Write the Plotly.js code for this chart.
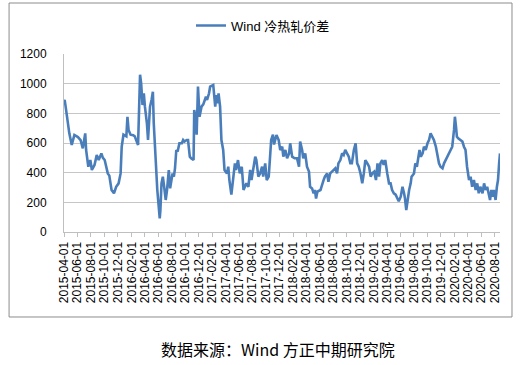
<!DOCTYPE html>
<html>
<head>
<meta charset="utf-8">
<script src="https://cdn.plot.ly/plotly-3.0.1.min.js"></script>
<style>
html,body{margin:0;padding:0;background:#fff;}
#chart{width:526px;height:365px;}
</style>
</head>
<body>
<div id="chart"></div>
<script>
const seriesName = "Wind 冷热轧价差";
const sourceText = "数据来源：Wind 方正中期研究院";

const dates = [
"2015-04-01","2015-04-04","2015-04-07","2015-04-15","2015-04-25","2015-05-06","2015-05-18","2015-06-03","2015-06-15","2015-06-25",
"2015-07-06","2015-07-10","2015-07-20","2015-07-29","2015-08-05","2015-08-17","2015-08-27","2015-09-05","2015-09-17","2015-09-24",
"2015-10-02","2015-10-16","2015-10-23","2015-11-02","2015-11-13","2015-11-23","2015-12-04","2015-12-13","2015-12-18","2015-12-26",
"2016-01-08","2016-01-13","2016-01-18","2016-01-27","2016-02-02","2016-02-08","2016-02-15","2016-03-01","2016-03-10","2016-03-15",
"2016-03-21","2016-03-27","2016-04-01","2016-04-10","2016-04-15","2016-04-24","2016-05-01","2016-05-07","2016-05-11","2016-05-16",
"2016-05-21","2016-05-27","2016-06-07","2016-06-10","2016-06-15","2016-06-21","2016-06-27","2016-07-04","2016-07-10","2016-07-18",
"2016-07-24","2016-08-04","2016-08-10","2016-08-15","2016-08-21","2016-08-27","2016-09-04","2016-09-15","2016-09-21","2016-09-27",
"2016-10-07","2016-10-13","2016-10-21","2016-10-27","2016-11-07","2016-11-10","2016-11-15","2016-11-21","2016-11-27","2016-12-04",
"2016-12-13","2016-12-21","2017-01-02","2017-01-07","2017-01-16","2017-01-21","2017-02-04","2017-02-13","2017-02-18","2017-02-24",
"2017-02-28","2017-03-07","2017-03-13","2017-03-21","2017-03-27","2017-04-07","2017-04-13","2017-04-18","2017-04-27","2017-05-07",
"2017-05-13","2017-05-18","2017-05-27","2017-06-04","2017-06-13","2017-06-21","2017-06-27","2017-07-04","2017-07-13","2017-07-21",
"2017-07-27","2017-08-04","2017-08-13","2017-08-18","2017-08-27","2017-09-04","2017-09-13","2017-09-18","2017-09-27","2017-10-04",
"2017-10-13","2017-10-18","2017-10-24","2017-11-01","2017-11-06","2017-11-17","2017-11-27","2017-12-04","2017-12-13","2017-12-18",
"2017-12-27","2018-01-04","2018-01-13","2018-01-18","2018-01-27","2018-02-07","2018-02-18","2018-02-27","2018-03-04","2018-03-13",
"2018-03-18","2018-03-27","2018-04-04","2018-04-13","2018-04-18","2018-04-27","2018-05-04","2018-05-10","2018-05-15","2018-05-21",
"2018-06-04","2018-06-18","2018-06-24","2018-07-04","2018-07-10","2018-07-18","2018-08-04","2018-08-10","2018-08-18","2018-08-24",
"2018-09-02","2018-09-10","2018-09-17","2018-09-24","2018-10-02","2018-10-10","2018-10-17","2018-10-24","2018-11-02","2018-11-10",
"2018-11-17","2018-11-24","2018-12-02","2018-12-10","2018-12-17","2018-12-24","2019-01-02","2019-01-10","2019-01-17","2019-01-24",
"2019-02-02","2019-02-10","2019-02-17","2019-02-24","2019-03-02","2019-03-10","2019-03-17","2019-03-24","2019-04-02","2019-04-10",
"2019-04-17","2019-04-24","2019-05-02","2019-05-10","2019-05-17","2019-05-24","2019-06-02","2019-06-10","2019-06-17","2019-06-21",
"2019-06-27","2019-07-04","2019-07-10","2019-07-17","2019-07-21","2019-08-01","2019-08-07","2019-08-14","2019-08-21","2019-08-26",
"2019-09-01","2019-09-09","2019-09-15","2019-09-23","2019-10-01","2019-10-08","2019-10-15","2019-10-22","2019-10-30","2019-11-08",
"2019-11-15","2019-11-22","2019-11-29","2019-12-08","2019-12-15","2019-12-22","2019-12-29","2020-01-07","2020-01-14","2020-01-21",
"2020-01-29","2020-02-02","2020-02-07","2020-02-11","2020-02-17","2020-02-28","2020-03-07","2020-03-14","2020-03-21","2020-03-28",
"2020-04-06","2020-04-13","2020-04-20","2020-04-28","2020-05-06","2020-05-13","2020-05-20","2020-05-27","2020-06-06","2020-06-13",
"2020-06-20","2020-06-27","2020-07-05","2020-07-10","2020-07-16","2020-07-21","2020-07-27","2020-08-04","2020-08-10","2020-08-15",
"2020-08-20","2020-08-24"
];

const spread = [
880,890,860,777,665,587,654,640,620,564,
665,553,440,485,418,452,519,485,530,500,
485,395,380,283,261,305,328,395,575,656,
645,777,688,656,656,652,645,587,1060,1002,
856,935,845,733,620,845,890,946,733,575,
418,283,92,148,328,373,305,216,283,418,
294,395,373,429,553,542,598,598,620,610,
620,620,508,497,485,823,777,656,980,777,
845,860,912,890,935,980,991,845,923,867,
935,845,620,553,418,395,440,350,252,418,
463,418,485,395,440,283,305,328,305,418,
350,440,508,485,373,395,440,373,463,350,
373,485,620,656,590,654,620,553,575,508,
553,497,530,598,508,497,497,440,610,553,
497,530,440,407,305,294,261,283,225,272,
283,350,373,395,339,395,418,429,395,463,
485,530,519,553,530,508,463,463,553,598,
463,440,395,328,395,485,463,440,373,395,
407,350,463,373,463,485,452,485,395,328,
328,283,261,252,229,207,238,305,261,229,
148,238,283,328,373,395,463,440,508,553,
508,530,575,553,598,620,665,643,620,575,
508,463,440,429,463,485,497,530,553,575,
688,777,710,643,632,620,610,575,553,440,
350,373,305,350,283,328,261,305,261,328,
283,305,238,216,283,238,283,216,305,350,
463,530
];

const yTicks = [0, 200, 400, 600, 800, 1000, 1200];

const trace = {
  x: dates,
  y: spread,
  type: "scatter",
  mode: "lines",
  name: seriesName,
  line: {color: "#4A7EBB", width: 2.6}
};

const layout = {
  width: 526,
  height: 365,
  margin: {l: 64, r: 26, t: 54, b: 133},
  paper_bgcolor: "#ffffff",
  plot_bgcolor: "#ffffff",
  font: {family: "Liberation Sans, Noto Sans CJK SC, sans-serif", size: 12, color: "#000000"},
  showlegend: true,
  legend: {
    orientation: "h",
    xref: "container", yref: "container",
    x: 0.5, xanchor: "center",
    y: 0.93, yanchor: "middle",
    font: {size: 13, color: "#000000"},
    itemwidth: 30
  },
  xaxis: {
    type: "date",
    range: ["2015-04-01", "2020-08-24"],
    tick0: "2015-04-01",
    dtick: "M2",
    tickformat: "%Y-%m-%d",
    tickangle: -90,
    showgrid: false,
    showline: true,
    linecolor: "#BFBFBF",
    linewidth: 1,
    ticks: "outside",
    ticklen: 4,
    tickcolor: "#BFBFBF",
    tickfont: {size: 12, color: "#000000"},
    zeroline: false
  },
  yaxis: {
    range: [0, 1200],
    tickvals: yTicks,
    showgrid: true,
    gridcolor: "#C6C6C6",
    gridwidth: 1,
    showline: true,
    linecolor: "#BFBFBF",
    zeroline: false,
    ticks: "",
    ticklabelstandoff: 14,
    tickfont: {size: 12, color: "#000000"}
  },
  shapes: [{
    type: "rect", xref: "paper", yref: "paper",
    x0: -0.126, x1: 1.0275, y0: -0.4775, y1: 1.2865,
    line: {color: "#8C8C8C", width: 1},
    fillcolor: "rgba(0,0,0,0)",
    layer: "below"
  }],
  annotations: [{
    text: sourceText,
    xref: "paper", yref: "paper",
    x: 0.491, y: -0.657,
    xanchor: "center", yanchor: "middle",
    showarrow: false,
    font: {family: "Noto Sans CJK SC, sans-serif", size: 16, color: "#000000"}
  }]
};

Plotly.newPlot("chart", [trace], layout, {displayModeBar: false, staticPlot: true});
</script>
</body>
</html>
